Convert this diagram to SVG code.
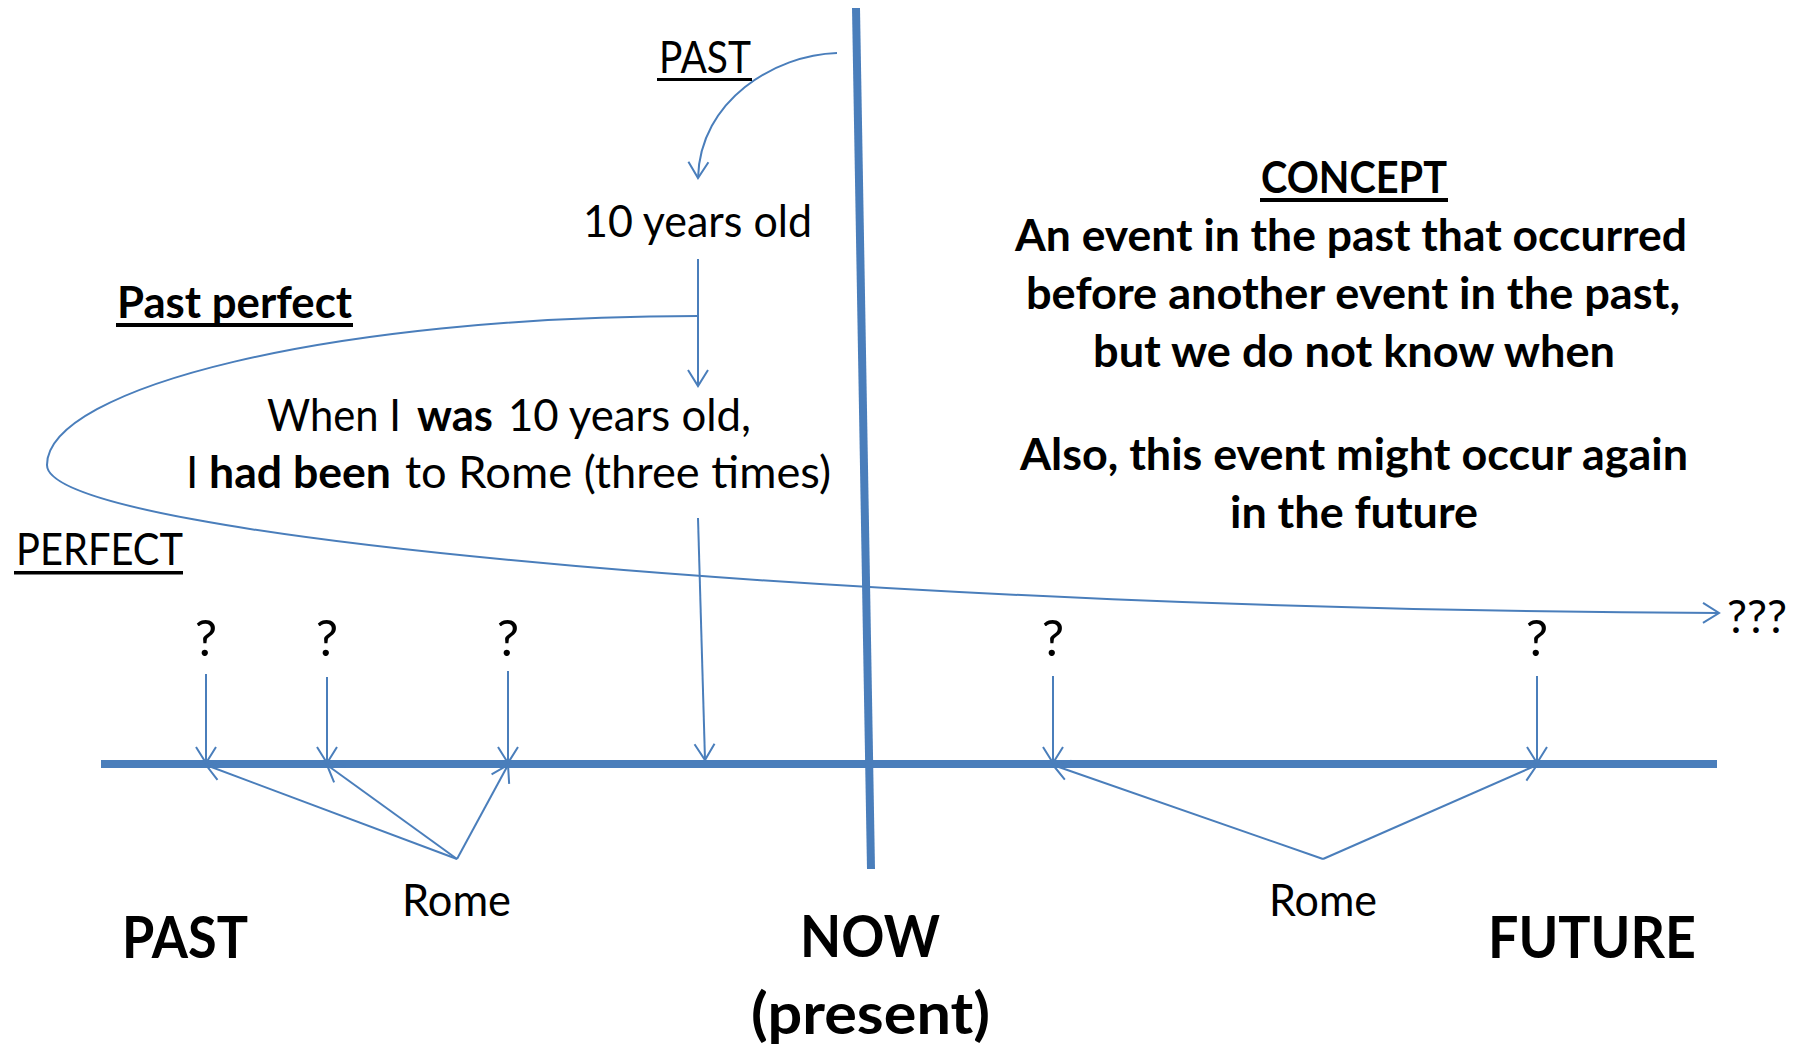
<svg xmlns="http://www.w3.org/2000/svg" width="1798" height="1046" viewBox="0 0 1798 1046">
  <style>
    text { font-family: Lato, "Open Sans", "Liberation Sans", sans-serif; fill: #000; }
    .reg { font-size: 44px; font-weight: 400; }
    .bold { font-size: 43px; font-weight: 700; }
    .big { font-size: 58px; font-weight: 700; }
    .q { font-size: 50px; font-weight: 400; text-anchor: middle; }
    .ul { fill: #000; }
    .axis { stroke: #4A7EBB; stroke-width: 8; fill: none; }
    .conn { stroke: #4A7EBB; stroke-width: 2; fill: none; }
    .tip { stroke: #4A7EBB; stroke-width: 2; fill: none; stroke-linejoin: miter; }
  </style>
  <defs>
    <marker id="open" viewBox="-20 -12 24 24" refX="0" refY="0" markerWidth="24" markerHeight="24" markerUnits="userSpaceOnUse" orient="auto">
      <path class="tip" d="M-16,-10 L0,0 L-16,10"/>
    </marker>
  </defs>
  <rect width="1798" height="1046" fill="#fff"/>

  <!-- time axis and the NOW divider -->
  <g id="axes">
    <line class="axis" x1="101" y1="764" x2="1717" y2="764"/>
    <line class="axis" x1="856" y1="8" x2="871" y2="869"/>
  </g>

  <!-- arrows -->
  <g id="connectors">
    <path class="conn" d="M837,53 C775,55 700,100 698,178" marker-end="url(#open)"/>
    <line class="conn" x1="698" y1="259" x2="698" y2="386" marker-end="url(#open)"/>
    <path class="conn" d="M698,316 C330,316 47,388 47,465 C47,540 900,610 1719,613" marker-end="url(#open)"/>
    <line class="conn" x1="698" y1="518" x2="705" y2="760" marker-end="url(#open)"/>
    <line class="conn" x1="206" y1="674" x2="206" y2="763" marker-end="url(#open)"/>
    <line class="conn" x1="327" y1="677" x2="327" y2="763" marker-end="url(#open)"/>
    <line class="conn" x1="508" y1="671" x2="508" y2="763" marker-end="url(#open)"/>
    <line class="conn" x1="1053" y1="676" x2="1053" y2="763" marker-end="url(#open)"/>
    <line class="conn" x1="1537" y1="676" x2="1537" y2="763" marker-end="url(#open)"/>
    <line class="conn" x1="457" y1="859" x2="206" y2="765" marker-end="url(#open)"/>
    <line class="conn" x1="457" y1="859" x2="327" y2="765" marker-end="url(#open)"/>
    <line class="conn" x1="457" y1="859" x2="508" y2="765" marker-end="url(#open)"/>
    <line class="conn" x1="1323" y1="859" x2="1053" y2="765" marker-end="url(#open)"/>
    <line class="conn" x1="1323" y1="859" x2="1537" y2="765" marker-end="url(#open)"/>
  </g>

  <g id="past-label">
    <text class="reg" x="659" y="73" textLength="92" lengthAdjust="spacingAndGlyphs">PAST</text>
    <rect class="ul" x="657" y="78" width="95" height="3"/>
  </g>

  <g id="ten-years">
    <text class="reg" x="583" y="237" textLength="229" lengthAdjust="spacingAndGlyphs">10 years old</text>
  </g>

  <g id="past-perfect">
    <text class="bold" x="117" y="318" textLength="235" lengthAdjust="spacingAndGlyphs">Past perfect</text>
    <rect class="ul" x="116" y="323" width="237" height="4"/>
  </g>

  <g id="example">
    <text class="reg" x="267" y="431" textLength="134" lengthAdjust="spacingAndGlyphs">When I</text>
    <text class="bold" x="417" y="431" textLength="76" lengthAdjust="spacingAndGlyphs">was</text>
    <text class="reg" x="508" y="431" textLength="243" lengthAdjust="spacingAndGlyphs">10 years old,</text>
    <text class="reg" x="186" y="488">I</text>
    <text class="bold" x="209" y="488" textLength="182" lengthAdjust="spacingAndGlyphs">had been</text>
    <text class="reg" x="405" y="488" textLength="426" lengthAdjust="spacingAndGlyphs">to Rome (three times)</text>
  </g>

  <g id="perfect-label">
    <text class="reg" x="16" y="565" textLength="167" lengthAdjust="spacingAndGlyphs">PERFECT</text>
    <rect class="ul" x="14" y="571" width="169" height="3.5"/>
  </g>

  <g id="unknown-times">
    <text class="q" x="206" y="656">?</text>
    <text class="q" x="327" y="656">?</text>
    <text class="q" x="508" y="656">?</text>
    <text class="q" x="1053" y="656">?</text>
    <text class="q" x="1537" y="656">?</text>
    <text class="reg" x="1727" y="633" textLength="60" lengthAdjust="spacingAndGlyphs" style="font-size:47px">???</text>
  </g>

  <g id="concept">
    <text class="bold" x="1261" y="193" textLength="186" lengthAdjust="spacingAndGlyphs">CONCEPT</text>
    <rect class="ul" x="1260" y="198" width="188" height="4"/>
    <text class="bold" x="1015" y="251" textLength="672" lengthAdjust="spacingAndGlyphs">An event in the past that occurred</text>
    <text class="bold" x="1026" y="309" textLength="654" lengthAdjust="spacingAndGlyphs">before another event in the past,</text>
    <text class="bold" x="1093" y="367" textLength="522" lengthAdjust="spacingAndGlyphs">but we do not know when</text>
    <text class="bold" x="1020" y="470" textLength="668" lengthAdjust="spacingAndGlyphs">Also, this event might occur again</text>
    <text class="bold" x="1230" y="528" textLength="248" lengthAdjust="spacingAndGlyphs">in the future</text>
  </g>

  <g id="rome-past">
    <text class="reg" x="402" y="916" textLength="109" lengthAdjust="spacingAndGlyphs">Rome</text>
  </g>
  <g id="rome-future">
    <text class="reg" x="1269" y="916" textLength="108" lengthAdjust="spacingAndGlyphs">Rome</text>
  </g>

  <g id="past">
    <text class="big" x="122" y="958" textLength="126" lengthAdjust="spacingAndGlyphs">PAST</text>
  </g>
  <g id="now">
    <text class="big" x="800" y="957" textLength="140" lengthAdjust="spacingAndGlyphs">NOW</text>
    <text class="big" x="751" y="1034" textLength="239" lengthAdjust="spacingAndGlyphs">(present)</text>
  </g>
  <g id="future">
    <text class="big" x="1488" y="958" textLength="208" lengthAdjust="spacingAndGlyphs">FUTURE</text>
  </g>
</svg>
